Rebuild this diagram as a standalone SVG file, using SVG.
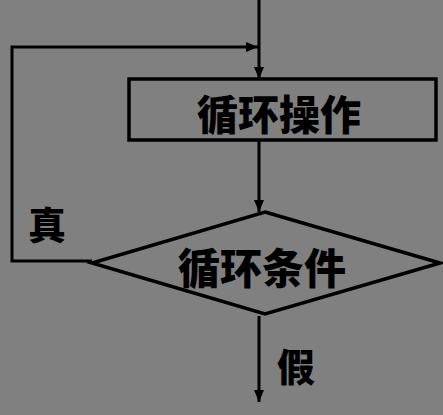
<svg xmlns="http://www.w3.org/2000/svg" width="443" height="415" viewBox="0 0 443 415">
<defs>
<marker id="ah" viewBox="0 0 12 10" refX="12" refY="5" markerWidth="12" markerHeight="10" markerUnits="userSpaceOnUse" orient="auto">
<path d="M0,0 L12,5 L0,10 Z" fill="#000"/>
</marker>
</defs>
<style>
.ln{fill:none;stroke:#000;stroke-width:3}
.sh{fill:none;stroke:#000;stroke-width:3.5}
.t{font-family:"Noto Sans CJK SC","Noto Sans CJK JP",sans-serif;font-weight:900;fill:#000;text-anchor:middle;dominant-baseline:central}
</style>
<rect width="443" height="415" fill="#808080"/>
<g id="connectors">
<path class="ln" d="M259,0 V79" marker-end="url(#ah)"/>
<path class="ln" d="M92,261 H12 V47 H258" marker-end="url(#ah)"/>
<path class="ln" d="M259,140 V212" marker-end="url(#ah)"/>
<path class="ln" d="M259,316 V402" marker-end="url(#ah)"/>
</g>
<g id="op">
<rect class="sh" x="129" y="79" width="307" height="61"/>
<text class="t" x="279" y="112" font-size="41">循环操作</text>
</g>
<g id="cond">
<polygon class="sh" points="265,212 440,263 265,314 92,263"/>
<text class="t" x="262" y="265" font-size="42">循环条件</text>
</g>
<g id="lbl-true"><text class="t" x="47" y="222" font-size="38">真</text></g>
<g id="lbl-false"><text class="t" x="296" y="364" font-size="38">假</text></g>
</svg>
